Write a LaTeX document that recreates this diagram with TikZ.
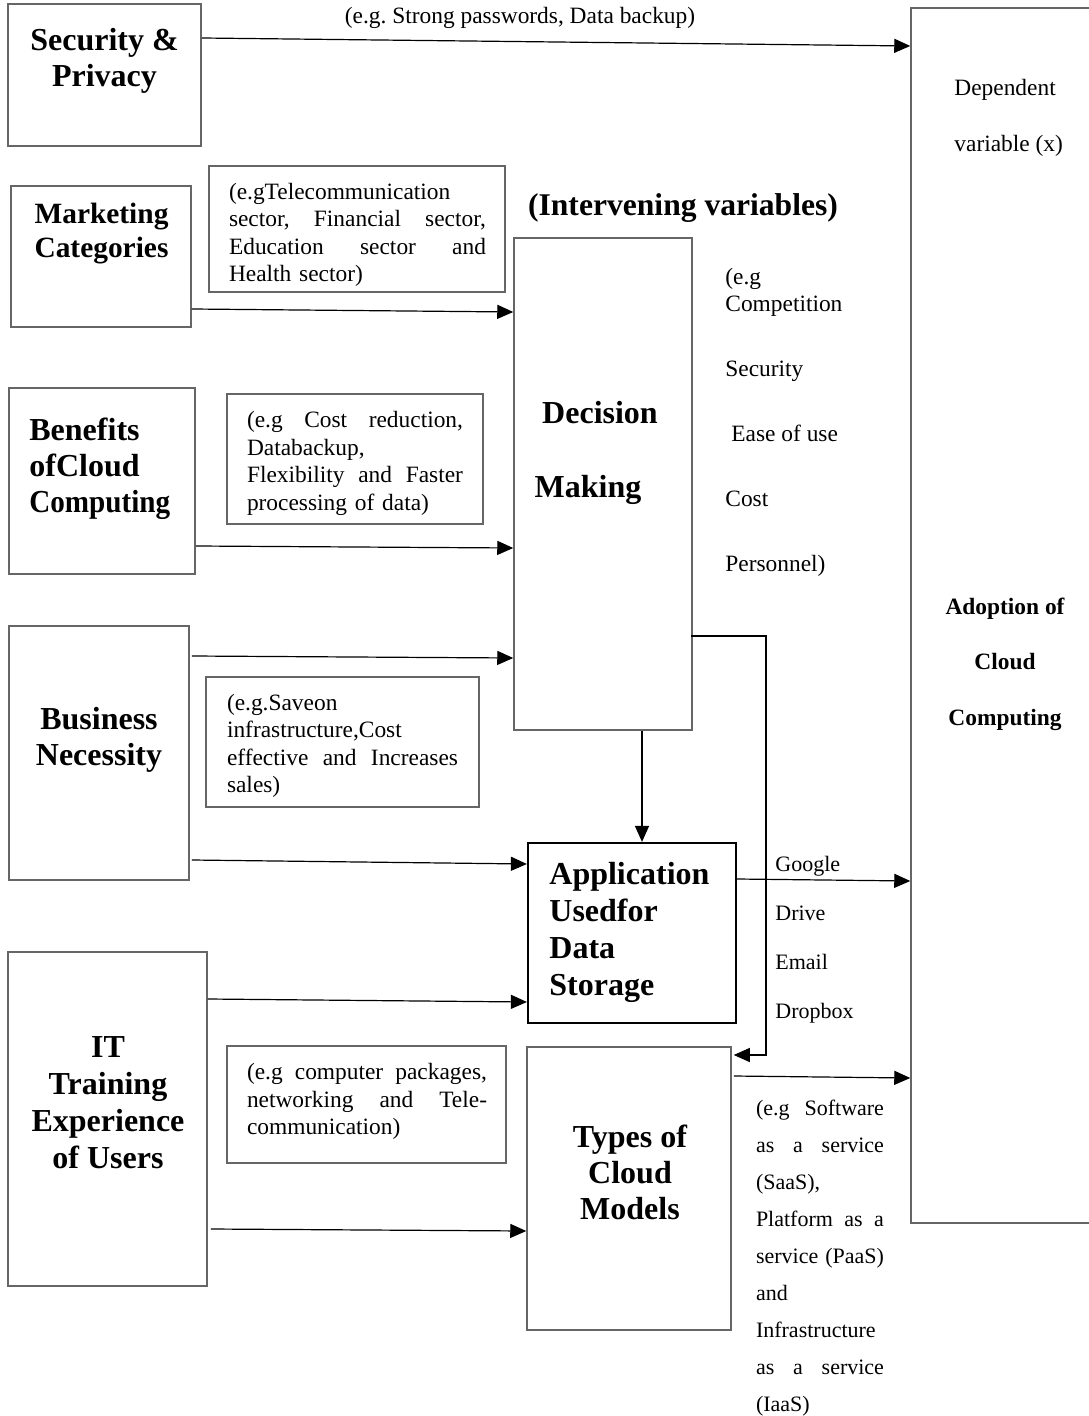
\documentclass[tikz,border=0pt]{standalone}
\usepackage{fontspec}
\usepackage{graphicx}
\setmainfont{Liberation Serif}
\usetikzlibrary{arrows.meta,fit}
\newcommand{\jline}[2]{\leavevmode\hbox to #1{#2}}
\newcommand{\jsp}{\hspace{0.25em plus 1fill}}
\frenchspacing
\begin{document}
\begin{tikzpicture}[x=0.5pt,y=-0.5pt,
 box/.style={draw=black!60, line width=0.75pt, inner sep=0pt},
 appbox/.style={draw=black, line width=1.1pt, inner sep=0pt},
 arr/.style={draw=black, line width=0.6pt, -{Triangle[length=8pt,width=7pt]}},
 head/.style={font={\fontsize{16}{18}\selectfont\bfseries}, inner sep=0pt, align=center},
 body/.style={font={\fontsize{11.7}{13.75}\selectfont}, inner sep=0pt},
 small/.style={font={\fontsize{11}{13}\selectfont}, inner sep=0pt},
]
\fill[white] (0,0) rectangle (1088,1416);
\useasboundingbox (0,0) rectangle (1088,1416);

% dependent variable box (open to the right edge)
\node[box, fit={(911,8) (1110,1223)}] (adopt) {};
\node[body, align=left, anchor=west] (dep) at (954,117.5) {Dependent\\[14.25pt]variable (x)};
\node[font={\fontsize{11.7}{13.75}\selectfont\bfseries}, inner sep=0pt, align=center] (adoptt) at (1005,664) {Adoption of\\[14pt]Cloud\\[14pt]Computing};

% Security & Privacy
\node[box, fit={(8,4) (201,146)}] (sec) {};
\node[head] (sect) at (104.5,61) {Security \&\\Privacy};
\node[body] (egsec) at (520,18) {(e.g. Strong passwords, Data backup)};
\draw[arr] (sec.east |- 0,38) -- (adopt.west |- 0,46);

% Marketing Categories
\node[box, fit={(11,186) (191,327)}] (mkt) {};
\node[head, font={\fontsize{14.7}{17}\selectfont\bfseries}] (mktt) at (101.5,234) {Marketing\\Categories};
\node[box, fit={(209,166) (505,292)}] (eg1) {};
\node[body, text width=128.5pt, align=left] (eg1t) at (357.5,235) {(e.gTelecommunication\\\jline{128.5pt}{sector,\jsp Financial\jsp sector,}\\\jline{128.5pt}{Education\jsp sector\jsp and}\\Health sector)};

% Intervening variables
\node[font={\fontsize{15.8}{18}\selectfont\bfseries}, inner sep=0pt] (interv) at (683,208) {(Intervening variables)};

% Decision Making
\node[box, fit={(514,238) (692,730)}] (dm) {};
\node[head] (dm1) at (600,413) {Decision};
\node[head] (dm2) at (588,490) {Making};
\node[body, align=left, anchor=west] (dmx) at (725,422.5) {(e.g\\Competition\\[18.75pt]Security\\[18.75pt]\hspace*{3pt}Ease of use\\[18.75pt]Cost\\[18.75pt]Personnel)};
\draw[arr] (mkt.east |- 0,309) -- (dm.west |- 0,312);

% Benefits of Cloud Computing
\node[box, fit={(9,388) (195,574)}] (ben) {};
\node[head, align=left, anchor=west] (bent) at (29,469) {Benefits\\ofCloud\\\scalebox{0.91}[1]{Computing}};
\node[box, fit={(227,394) (483,524)}] (eg2) {};
\node[body, text width=108pt, align=left] (eg2t) at (355,463.5) {\jline{108pt}{(e.g\jsp Cost\jsp reduction,}\\Databackup,\\\jline{108pt}{Flexibility\jsp and\jsp Faster}\\processing of data)};
\draw[arr] (ben.east |- 0,546) -- (dm.west |- 0,548);

% Business Necessity
\node[box, fit={(9,626) (189,880)}] (bus) {};
\node[head] (bust) at (99,740) {Business\\Necessity};
\node[box, fit={(206,677) (479,807)}] (eg3) {};
\node[body, text width=115.5pt, align=left] (eg3t) at (342.5,746) {(e.g.Saveon\\infrastructure,Cost\\\jline{115.5pt}{effective\jsp and\jsp Increases}\\sales)};
\draw[arr] ([xshift=1pt]bus.east |- 0,656) -- (dm.west |- 0,658);

% Application Used for Data Storage
\node[appbox, fit={(528,843) (736,1023)}] (app) {};
\node[head, font={\fontsize{16}{18.5}\selectfont\bfseries}, align=left, anchor=west] (appt) at (549,932) {Application\\Usedfor\\Data\\Storage};
\draw[arr] ([xshift=1pt]bus.east |- 0,860) -- (app.west |- 0,864);
\draw[arr] (dm.south -| 642,0) -- (app.north -| 642,0);
\node[small, align=left, anchor=west] (gd) at (775,940) {Google\\[11.5pt]Drive\\[11.5pt]Email\\[11.5pt]Dropbox};
\draw[arr] (app.east |- 0,879) -- (adopt.west |- 0,881);

% IT Training Experience of Users
\node[box, fit={(8,952) (207,1286)}] (it) {};
\node[head, font={\fontsize{16}{18.5}\selectfont\bfseries}] (itt) at (108,1103) {IT\\Training\\Experience\\of Users};
\node[box, fit={(227,1046) (506,1163)}] (eg4) {};
\node[body, text width=120pt, align=left] (eg4t) at (367,1101.5) {\jline{120pt}{(e.g\jsp computer\jsp packages,}\\\jline{120pt}{networking\jsp and\jsp Tele-}\\communication)};

% Types of Cloud Models
\node[box, fit={(527,1047) (731,1330)}] (types) {};
\node[head] (typest) at (630,1172) {Types of\\Cloud\\Models};
\draw[arr] (it.east |- 0,999) -- (app.west |- 0,1002);
\draw[arr] ([xshift=1.5pt]it.east |- 0,1229) -- (types.west |- 0,1231);
\draw[arr] ([xshift=1pt]types.east |- 0,1076) -- (adopt.west |- 0,1078);
\node[font={\fontsize{11}{18.5}\selectfont}, inner sep=0pt, text width=64pt, align=left] (tmx) at (820,1258.5) {\jline{64pt}{(e.g\jsp Software}\\\jline{64pt}{as\jsp a\jsp service}\\(SaaS),\\\jline{64pt}{Platform\jsp as\jsp a}\\\jline{64pt}{service\jsp (PaaS)}\\and\\Infrastructure\\\jline{64pt}{as\jsp a\jsp service}\\(IaaS)};

% Decision Making -> Types of Cloud Models
\coordinate (c1) at (766,636);
\draw[arr] ([xshift=-1pt]dm.east |- c1) -- (c1) -- (c1 |- 0,1055) -- ([xshift=1pt]types.east |- 0,1055);
\end{tikzpicture}
\end{document}
